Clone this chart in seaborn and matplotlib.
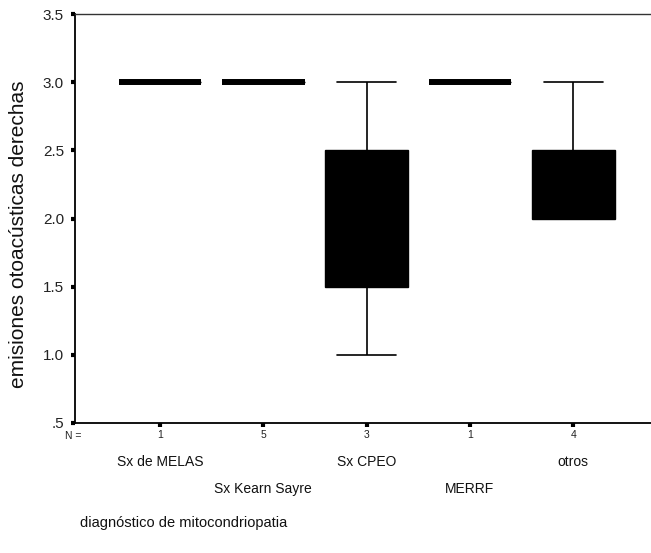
import matplotlib
matplotlib.use("Agg")
import matplotlib.pyplot as plt
import matplotlib.transforms as mtransforms
import seaborn as sns
import pandas as pd

# ---- data ----
categories = ["Sx de MELAS", "Sx Kearn Sayre", "Sx CPEO", "MERRF", "otros"]
melas = [3.0]
kearn_sayre = [3.0, 3.0, 3.0, 3.0, 3.0]
cpeo = [1.0, 2.0, 3.0]
merrf = [3.0]
otros = [2.0, 2.0, 2.333, 3.0]
n_counts = [1, 5, 3, 1, 4]
y_ticks = [0.5, 1.0, 1.5, 2.0, 2.5, 3.0, 3.5]
y_tick_labels = [".5", "1.0", "1.5", "2.0", "2.5", "3.0", "3.5"]
y_label = "emisiones otoacústicas derechas"
x_label = "diagnóstico de mitocondriopatia"

rows = []
for cat, vals in zip(categories, [melas, kearn_sayre, cpeo, merrf, otros]):
    for v in vals:
        rows.append({"diag": cat, "val": v})
df = pd.DataFrame(rows)

sns.set_theme(style="white")
plt.rcParams["font.family"] = ["Liberation Sans", "DejaVu Sans"]

W, H = 651, 553
fig = plt.figure(figsize=(W / 100, H / 100), dpi=100)
ax_left, ax_top, ax_bottom = 75, 14, 423
ax = fig.add_axes([ax_left / W, 1 - ax_bottom / H, 1 - ax_left / W, (ax_bottom - ax_top) / H])

sns.boxplot(
    data=df, x="diag", y="val", order=categories, ax=ax,
    width=0.8, color="black", linecolor="black", fill=True,
    whis=1.5, showfliers=False, saturation=1,
    boxprops=dict(facecolor="black", edgecolor="black", linewidth=1.0),
    medianprops=dict(color="black", linewidth=4.3, solid_capstyle="butt"),
    whiskerprops=dict(color="black", linewidth=1.2),
    capprops=dict(color="black", linewidth=1.2),
    capwidths=0.57,
)

ax.set_xlim(-0.823, 4.753)
ax.set_ylim(0.5, 3.5)
ax.set_yticks(y_ticks)
ax.set_yticklabels(y_tick_labels, fontsize=11, color="#222222")
ax.set_xticks(range(len(categories)))
ax.set_xticklabels([str(n) for n in n_counts], fontsize=7.5, color="#222222")
ax.tick_params(axis="both", which="major", left=True, bottom=True,
               length=3, width=3, color="black", direction="out")
ax.tick_params(axis="y", pad=5)
ax.tick_params(axis="x", pad=2)
ax.set_xlabel("")
ax.set_ylabel("")
ax.grid(False)

for side in ["left", "bottom"]:
    ax.spines[side].set_color("black")
    ax.spines[side].set_linewidth(1.3)
ax.spines["top"].set_color("#333333")
ax.spines["top"].set_linewidth(1.0)
ax.spines["right"].set_visible(False)

fig.text(73 / W, 1 - 436 / H, "N =", fontsize=7.5, ha="center", va="center", color="#222222")

trans = mtransforms.blended_transform_factory(ax.transData, fig.transFigure)
row_y = [1 - 462 / H, 1 - 489 / H]
for i, cat in enumerate(categories):
    ax.text(i, row_y[i % 2], cat, transform=trans, ha="center", va="center",
            fontsize=10, color="#111111")

fig.text(80 / W, 1 - 523 / H, x_label, fontsize=10.5, ha="left", va="center", color="#111111")
fig.text(19 / W, 1 - 234 / H, y_label, fontsize=15, rotation=90, ha="center", va="center",
         color="#111111")

fig.savefig("out.png", dpi=100)
